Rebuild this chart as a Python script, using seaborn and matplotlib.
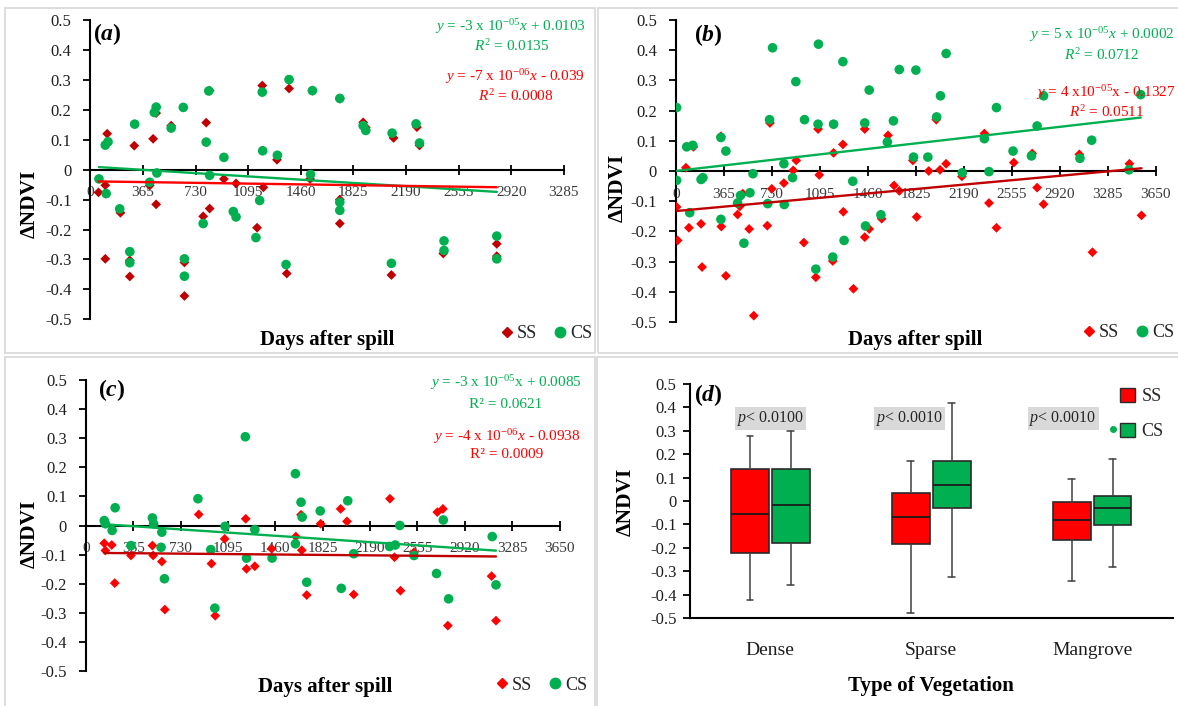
import numpy as np
import pandas as pd
import matplotlib
matplotlib.use("Agg")
import matplotlib.pyplot as plt
from matplotlib.patches import Rectangle, Patch
from matplotlib.lines import Line2D
from matplotlib.ticker import FixedLocator, FuncFormatter
import seaborn as sns

# ---------------- (a) Dense vegetation ----------------
dense_ss_days = [57, 104, 117, 104, 209, 274, 274, 305, 412, 436, 457, 457, 561, 653, 653,
                 783, 804, 828, 828, 927, 1011, 1157, 1193, 1201, 1295, 1363, 1379, 1525, 1541,
                 1731, 1731, 1731, 1893, 1911, 2089, 2104, 2266, 2284, 2449, 2820, 2820]
dense_ss_ndvi = [-0.076, -0.052, 0.120, -0.298, -0.144, -0.303, -0.357, 0.080, -0.053, 0.103,
                 0.189, -0.116, 0.147, -0.310, -0.422, -0.156, 0.157, 0.264, -0.130, -0.031,
                 -0.046, -0.194, 0.281, -0.059, 0.033, -0.347, 0.271, -0.031, 0.264, 0.237,
                 -0.100, -0.180, 0.158, 0.141, -0.352, 0.106, 0.142, 0.081, -0.280, -0.248, -0.289]
dense_cs_days = [60, 104, 123, 110, 204, 274, 274, 308, 412, 444, 457, 462, 561, 645, 653, 653,
                 783, 804, 822, 828, 927, 992, 1011, 1149, 1175, 1193, 1196, 1298, 1358, 1379,
                 1528, 1541, 1731, 1731, 1731, 1893, 1911, 2094, 2089, 2260, 2284, 2454, 2454,
                 2820, 2820]
dense_cs_ndvi = [-0.031, 0.082, 0.093, -0.080, -0.131, -0.274, -0.311, 0.152, -0.042, 0.191,
                 0.209, -0.011, 0.139, 0.208, -0.298, -0.356, -0.180, 0.092, 0.263, -0.019,
                 0.041, -0.140, -0.158, -0.227, -0.103, 0.259, 0.063, 0.048, -0.317, 0.301,
                 -0.016, 0.264, 0.238, -0.109, -0.136, 0.147, 0.131, 0.122, -0.313, 0.153,
                 0.089, -0.238, -0.270, -0.222, -0.298]

# ---------------- (b) Sparse vegetation ----------------
sparse_ss_days = [6, 14, 77, 100, 134, 192, 200, 343, 346, 381, 470, 487, 510, 558, 593, 696,
                  716, 730, 822, 893, 916, 974, 1065, 1082, 1091, 1194, 1200, 1271, 1274, 1351,
                  1437, 1437, 1471, 1566, 1614, 1660, 1700, 1803, 1832, 1924, 1981, 2010, 2056,
                  2176, 2347, 2382, 2439, 2571, 2711, 2748, 2797, 3069, 3169, 3450, 3542]
sparse_ss_ndvi = [-0.119, -0.230, 0.011, -0.188, 0.080, -0.175, -0.318, 0.115, -0.184, -0.347,
                  -0.144, -0.117, -0.075, -0.192, -0.479, -0.181, 0.159, -0.059, -0.040, 0.002,
                  0.035, -0.237, -0.352, 0.139, -0.013, -0.298, 0.060, 0.088, -0.135, -0.390,
                  0.139, -0.219, -0.192, -0.158, 0.118, -0.048, -0.066, 0.035, -0.152, 0.000,
                  0.170, 0.004, 0.024, -0.018, 0.124, -0.106, -0.188, 0.028, 0.058, -0.055,
                  -0.110, 0.055, -0.269, 0.024, -0.147]
sparse_cs_days = [6, 6, 83, 129, 106, 192, 206, 343, 343, 381, 470, 492, 518, 564, 587, 699,
                  713, 736, 822, 825, 888, 913, 979, 1065, 1082, 1085, 1194, 1200, 1271, 1280,
                  1346, 1437, 1443, 1471, 1560, 1609, 1655, 1700, 1808, 1826, 1917, 1984, 2013,
                  2056, 2179, 2347, 2382, 2439, 2565, 2705, 2748, 2797, 3074, 3163, 3447, 3536]
sparse_cs_ndvi = [0.210, -0.031, 0.080, 0.085, -0.138, -0.028, -0.022, 0.111, -0.160, 0.066,
                  -0.106, -0.081, -0.239, -0.072, -0.009, -0.108, 0.170, 0.408, 0.024, -0.111,
                  -0.022, 0.296, 0.170, -0.325, 0.155, 0.420, -0.285, 0.155, 0.362, -0.230,
                  -0.034, 0.159, -0.182, 0.268, -0.145, 0.096, 0.166, 0.336, 0.046, 0.334,
                  0.046, 0.179, 0.249, 0.389, -0.006, 0.107, -0.002, 0.210, 0.066, 0.050,
                  0.149, 0.249, 0.042, 0.102, 0.004, 0.253]

# ---------------- (c) Mangrove ----------------
mangrove_ss_days = [142, 151, 200, 223, 348, 513, 519, 586, 609, 870, 968, 997, 1070, 1232,
                    1238, 1302, 1432, 1618, 1658, 1664, 1702, 1809, 1963, 2012, 2064, 2343,
                    2378, 2424, 2528, 2708, 2751, 2789, 3126, 3160]
mangrove_ss_ndvi = [-0.061, -0.086, -0.067, -0.198, -0.103, -0.069, -0.103, -0.124, -0.289,
                    0.038, -0.131, -0.310, -0.046, 0.023, -0.149, -0.140, -0.080, -0.038,
                    0.037, -0.085, -0.239, 0.006, 0.057, 0.014, -0.237, 0.092, -0.109,
                    -0.224, -0.092, 0.046, 0.057, -0.344, -0.174, -0.327]
mangrove_cs_days = [142, 151, 203, 226, 348, 513, 522, 586, 580, 606, 864, 963, 994, 1073,
                    1229, 1238, 1302, 1435, 1615, 1615, 1658, 1667, 1702, 1806, 1968, 2018,
                    2064, 2340, 2384, 2419, 2528, 2702, 2754, 2795, 3131, 3160]
mangrove_cs_ndvi = [0.017, 0.006, -0.017, 0.061, -0.069, 0.026, 0.006, -0.023, -0.075, -0.183,
                    0.092, -0.083, -0.284, -0.003, 0.305, -0.112, -0.014, -0.112, 0.178,
                    -0.063, 0.080, 0.029, -0.195, 0.050, -0.216, 0.085, -0.097, -0.072,
                    -0.067, 0.000, -0.103, -0.165, 0.019, -0.252, -0.038, -0.204]

# Linear trend coefficients (slope, intercept) as printed on each panel
dense_cs_fit, dense_ss_fit = (-3e-05, 0.0103), (-7e-06, -0.039)
sparse_cs_fit, sparse_ss_fit = (5e-05, 0.0002), (4e-05, -0.1327)
mangrove_cs_fit, mangrove_ss_fit = (-3e-05, 0.0085), (-4e-06, -0.0938)

# ---------------- (d) Box statistics per vegetation type ----------------
veg_types = ["Dense", "Sparse", "Mangrove"]
ss_whislo = [-0.424, -0.479, -0.342]
ss_q1 = [-0.221, -0.185, -0.165]
ss_med = [-0.054, -0.070, -0.083]
ss_q3 = [0.138, 0.036, -0.003]
ss_whishi = [0.278, 0.170, 0.094]
cs_whislo = [-0.358, -0.325, -0.282]
cs_q1 = [-0.181, -0.031, -0.104]
cs_med = [-0.017, 0.070, -0.028]
cs_q3 = [0.137, 0.170, 0.023]
cs_whishi = [0.299, 0.419, 0.179]
cs_fliers = [[], [], [0.306]]
p_labels = ["0.0100", "0.0010", "0.0010"]

GREEN = "#00B050"
RED = "#FF0000"
DARKRED = "#C00000"

sns.set_theme(style="ticks")
plt.rcParams.update({
    "font.family": ["Liberation Serif", "DejaVu Serif"],
    "mathtext.fontset": "custom",
    "mathtext.rm": "Liberation Serif",
    "mathtext.it": "Liberation Serif:italic",
    "mathtext.bf": "Liberation Serif:bold",
    "mathtext.sf": "Liberation Serif:italic:bold",
    "axes.unicode_minus": False,
    "axes.linewidth": 1.5,
    "axes.edgecolor": "black",
    "xtick.color": "black",
    "ytick.color": "black",
})

W, H = 1178, 706
fig = plt.figure(figsize=(W / 100, H / 100), dpi=100)


def fx(px):
    return px / W


def fy(py):
    return 1 - py / H


def add_axes(left, right, top, bottom):
    return fig.add_axes([fx(left), fy(bottom), (right - left) / W, (bottom - top) / H])


# light frames around the four panels
for l, t, r, b in [(5, 8, 595, 353), (598, 8, 1190, 353), (5, 357, 595, 715), (597, 357, 1190, 715)]:
    fig.patches.append(Rectangle((fx(l), fy(b)), (r - l) / W, (b - t) / H, transform=fig.transFigure,
                                 fill=False, edgecolor="#DADADA", lw=1.3, zorder=0))

yfmt = FuncFormatter(lambda v, _: "0" if abs(v) < 1e-9 else f"{v:.1f}")
yticks = np.round(np.arange(-0.5, 0.51, 0.1), 1)


def scatter_panel(ax, ss_days, ss_vals, cs_days, cs_vals, ss_fit, cs_fit,
                  ss_color, ss_line, xmax):
    df = pd.DataFrame({
        "day": list(ss_days) + list(cs_days),
        "ndvi": list(ss_vals) + list(cs_vals),
        "group": ["SS"] * len(ss_days) + ["CS"] * len(cs_days),
    })
    sns.scatterplot(data=df, x="day", y="ndvi", hue="group", style="group", size="group",
                    hue_order=["SS", "CS"], palette={"SS": ss_color, "CS": GREEN},
                    markers={"SS": "D", "CS": "o"}, sizes={"SS": 25, "CS": 48},
                    linewidth=0, legend=False, ax=ax, zorder=3)
    for days, fit, col in [(cs_days, cs_fit, GREEN), (ss_days, ss_fit, ss_line)]:
        xs = np.array([min(days), max(days)], dtype=float)
        sns.lineplot(x=xs, y=fit[0] * xs + fit[1], color=col, lw=1.7, ax=ax, zorder=4)
    ax.set_xlim(0, xmax)
    ax.set_ylim(-0.5, 0.5)
    ax.xaxis.set_major_locator(FixedLocator(np.arange(0, xmax + 1, 365)))
    ax.yaxis.set_major_locator(FixedLocator(yticks))
    ax.yaxis.set_major_formatter(yfmt)
    sns.despine(ax=ax)
    ax.spines["bottom"].set_position(("data", 0))
    ax.spines["bottom"].set_zorder(2)
    ax.tick_params(axis="x", direction="inout", length=7, width=1.3, pad=8.5,
                   labelsize=11, labelcolor="#3a3a3a")
    ax.tick_params(axis="y", direction="out", length=5, width=1.3, pad=8.5,
                   labelsize=12, labelcolor="#1e1e1e")
    ax.set_xlabel("")
    ax.set_ylabel("")
    ax.set_facecolor("none")


def point_legend(ax, ss_color, cx, cy):
    handles = [Line2D([], [], ls="none", marker="D", markersize=5, color=ss_color),
               Line2D([], [], ls="none", marker="o", markersize=7.5, color=GREEN)]
    ax.legend(handles, ["SS", "CS"], loc="center", bbox_to_anchor=(fx(cx), fy(cy)),
              bbox_transform=fig.transFigure, ncol=2, frameon=False, fontsize=13,
              handlelength=0.8, handletextpad=0.15, columnspacing=0.9,
              borderpad=0, borderaxespad=0)


def panel_text(px, py, s, color="black", size=11, **kw):
    fig.text(fx(px), fy(py), s, color=color, fontsize=size, ha="center", va="center", **kw)


# ---------------- (a) ----------------
ax_a = add_axes(90.3, 563.8, 20, 319.3)
scatter_panel(ax_a, dense_ss_days, dense_ss_ndvi, dense_cs_days, dense_cs_ndvi,
              dense_ss_fit, dense_cs_fit, DARKRED, RED, 3285)
point_legend(ax_a, DARKRED, 546, 334)
panel_text(511, 27, r"$y$ = -3 x 10$^{-05}x$ + 0.0103", GREEN)
panel_text(512, 46, r"$R^{2}$ = 0.0135", GREEN)
panel_text(515, 77, r"$y$ = -7 x 10$^{-06}x$ - 0.039", RED)
panel_text(516, 96, r"$R^{2}$ = 0.0008", RED)
panel_text(107, 34, r"$\mathbf{(}\mathsf{a}\mathbf{)}$", size=17)
panel_text(327, 340, "Days after spill", size=15, fontweight="bold")
panel_text(30, 204, "ΔNDVI", size=15.5, fontweight="bold", rotation=90)

# ---------------- (b) ----------------
ax_b = add_axes(675.8, 1155.7, 20, 322)
scatter_panel(ax_b, sparse_ss_days, sparse_ss_ndvi, sparse_cs_days, sparse_cs_ndvi,
              sparse_ss_fit, sparse_cs_fit, RED, DARKRED, 3650)
point_legend(ax_b, RED, 1128, 333)
panel_text(1102, 35, r"$y$ = 5 x 10$^{-05}x$ + 0.0002", GREEN)
panel_text(1102, 55, r"$R^{2}$ = 0.0712", GREEN)
panel_text(1106, 93, r"$y$ = 4 x10$^{-05}$x - 0.1327", RED)
panel_text(1107, 112, r"$R^{2}$ = 0.0511", RED)
panel_text(708, 35, r"$\mathbf{(}\mathsf{b}\mathbf{)}$", size=17)
panel_text(915, 340, "Days after spill", size=15, fontweight="bold")
panel_text(618, 188, "ΔNDVI", size=15.5, fontweight="bold", rotation=90)

# ---------------- (c) ----------------
ax_c = add_axes(85.8, 559.6, 380, 671)
scatter_panel(ax_c, mangrove_ss_days, mangrove_ss_ndvi, mangrove_cs_days, mangrove_cs_ndvi,
              mangrove_ss_fit, mangrove_cs_fit, RED, DARKRED, 3650)
point_legend(ax_c, RED, 541, 685)
panel_text(506, 383, r"$y$ = -3 x 10$^{-05}$x + 0.0085", GREEN)
panel_text(506, 405, "R² = 0.0621", GREEN)
panel_text(507, 437, r"$y$ = -4 x 10$^{-06}x$ - 0.0938", RED)
panel_text(507, 455, "R² = 0.0009", RED)
panel_text(112, 390, r"$\mathbf{(}\mathsf{c}\mathbf{)}$", size=17)
panel_text(325, 687, "Days after spill", size=15, fontweight="bold")
panel_text(30, 534, "ΔNDVI", size=15.5, fontweight="bold", rotation=90)

# ---------------- (d) ----------------
ax_d = add_axes(689.7, 1172.6, 384, 618)
pos = np.arange(len(veg_types))
offset, width = 0.127, 0.235
ss_stats = [dict(whislo=a, q1=b, med=c, q3=d, whishi=e, fliers=[])
            for a, b, c, d, e in zip(ss_whislo, ss_q1, ss_med, ss_q3, ss_whishi)]
cs_stats = [dict(whislo=a, q1=b, med=c, q3=d, whishi=e, fliers=f)
            for a, b, c, d, e, f in zip(cs_whislo, cs_q1, cs_med, cs_q3, cs_whishi, cs_fliers)]
for stats, shift, col in [(ss_stats, -offset, RED), (cs_stats, offset, GREEN)]:
    ax_d.bxp(stats, positions=pos + shift, widths=width, patch_artist=True, manage_ticks=False,
             boxprops=dict(facecolor=col, edgecolor="#2a2a2a", lw=1.2),
             medianprops=dict(color="#1a1a1a", lw=1.3),
             whiskerprops=dict(color="#404040", lw=1.1),
             capprops=dict(color="#404040", lw=1.1), capwidths=0.04,
             flierprops=dict(marker="o", markersize=4, markerfacecolor=col,
                             markeredgecolor=col, linestyle="none"))
ax_d.set_xlim(-0.5, 2.5)
ax_d.set_ylim(-0.5, 0.5)
ax_d.set_xticks(pos)
ax_d.set_xticklabels(veg_types)
ax_d.yaxis.set_major_locator(FixedLocator(yticks))
ax_d.yaxis.set_major_formatter(yfmt)
sns.despine(ax=ax_d)
ax_d.tick_params(axis="x", length=0, pad=17, labelsize=14, labelcolor="#1e1e1e")
ax_d.tick_params(axis="y", direction="out", length=5, width=1.3, pad=4.5,
                 labelsize=12, labelcolor="#1e1e1e")
ax_d.set_facecolor("none")
for xp, txt in zip([0.0, 0.866, 1.82], p_labels):
    ax_d.text(xp, 0.353, r"$p$< " + txt, ha="center", va="center", fontsize=11.5,
              bbox=dict(boxstyle="square,pad=0.12", facecolor="#D9D9D9", edgecolor="none"))
ax_d.legend([Patch(facecolor=RED, edgecolor="#2a2a2a"), Patch(facecolor=GREEN, edgecolor="#2a2a2a")],
            ["SS", "CS"], loc="upper left", bbox_to_anchor=(fx(1120), fy(388)),
            bbox_transform=fig.transFigure, frameon=False, fontsize=13,
            handlelength=0.85, handleheight=0.8, labelspacing=1.0, handletextpad=0.35,
            borderpad=0, borderaxespad=0)
panel_text(708, 395, r"$\mathbf{(}\mathsf{d}\mathbf{)}$", size=17)
panel_text(931, 686, "Type of Vegetation", size=15, fontweight="bold")
panel_text(626, 502, "ΔNDVI", size=15.5, fontweight="bold", rotation=90)

fig.savefig("out.png", dpi=100)
